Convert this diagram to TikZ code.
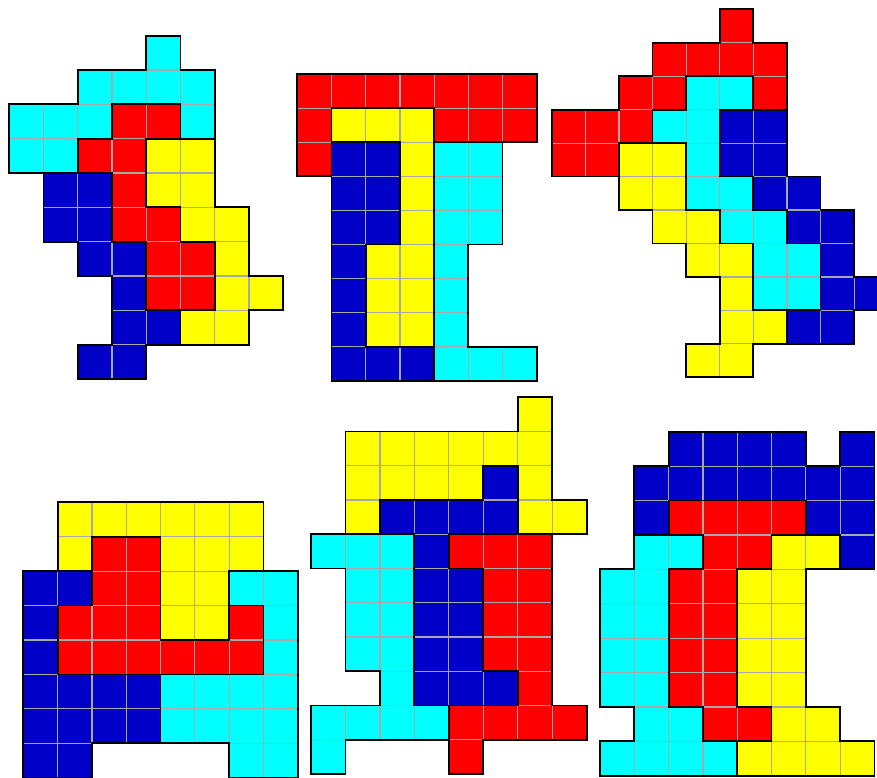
\documentclass[tikz,border=0pt]{standalone}
\usepackage{tikz}
\usetikzlibrary{calc}

\definecolor{piececyan}{HTML}{00FFFF}
\definecolor{piecered}{HTML}{FF0000}
\definecolor{pieceyellow}{HTML}{FFFF00}
\definecolor{pieceblue}{HTML}{0000C8}
\definecolor{gridgray}{HTML}{A8A8A8}

\tikzset{
    cellline/.style={draw=gridgray,line width=1.2bp},
    outline/.style={draw=black,line width=1.8bp,line join=miter}
}

% one piece = list of cells col/row, filled with one colour
\newcommand{\piece}[2]{%
    \foreach \cx/\cy in {#2} {\filldraw[fill=#1,cellline] (\cx,\cy) rectangle ++(1,1);}%
}

\begin{document}
\begin{tikzpicture}[x=1bp,y=-1bp]
    \useasboundingbox (0,0) rectangle (877,778);

    % top left
    \begin{scope}[shift={(9.3,35.7)},x=34.25bp,y=-34.33bp]
        \piece{piececyan}{4/0,2/1,3/1,4/1,5/1,0/2,1/2,2/2,5/2,0/3,1/3}
        \piece{piecered}{3/2,4/2,2/3,3/3,3/4,3/5,4/5,4/6,5/6,4/7,5/7}
        \piece{pieceyellow}{4/3,5/3,4/4,5/4,5/5,6/5,6/6,6/7,7/7,5/8,6/8}
        \piece{pieceblue}{1/4,2/4,1/5,2/5,2/6,3/6,3/7,3/8,4/8,2/9,3/9}
        \draw[outline] (4,0)--(5,0)--(5,1)--(6,1)--(6,3)--(5,3)--(5,2)--(3,2)--(3,3)--(2,3)--(2,4)--(0,4)--(0,2)--(2,2)--(2,1)--(4,1)--cycle;
        \draw[outline] (3,2)--(5,2)--(5,3)--(4,3)--(4,5)--(5,5)--(5,6)--(6,6)--(6,8)--(4,8)--(4,6)--(3,6)--(3,4)--(2,4)--(2,3)--(3,3)--cycle;
        \draw[outline] (4,3)--(6,3)--(6,5)--(7,5)--(7,7)--(8,7)--(8,8)--(7,8)--(7,9)--(5,9)--(5,8)--(6,8)--(6,6)--(5,6)--(5,5)--(4,5)--cycle;
        \draw[outline] (1,4)--(3,4)--(3,6)--(4,6)--(4,8)--(5,8)--(5,9)--(4,9)--(4,10)--(2,10)--(2,9)--(3,9)--(3,7)--(2,7)--(2,6)--(1,6)--cycle;
    \end{scope}

    % top middle
    \begin{scope}[shift={(297.3,74)},x=34.2bp,y=-34.1bp]
        \piece{piecered}{0/0,1/0,2/0,3/0,4/0,5/0,6/0,0/1,4/1,5/1,6/1,0/2}
        \piece{pieceyellow}{1/1,2/1,3/1,3/2,3/3,3/4,2/5,3/5,2/6,3/6,2/7,3/7}
        \piece{pieceblue}{1/2,2/2,1/3,2/3,1/4,2/4,1/5,1/6,1/7,1/8,2/8,3/8}
        \piece{piececyan}{4/2,5/2,4/3,5/3,4/4,5/4,4/5,4/6,4/7,4/8,5/8,6/8}
        \draw[outline] (0,0)--(7,0)--(7,2)--(4,2)--(4,1)--(1,1)--(1,3)--(0,3)--cycle;
        \draw[outline] (1,1)--(4,1)--(4,8)--(2,8)--(2,5)--(3,5)--(3,2)--(1,2)--cycle;
        \draw[outline] (1,2)--(3,2)--(3,5)--(2,5)--(2,8)--(4,8)--(4,9)--(1,9)--cycle;
        \draw[outline] (4,2)--(6,2)--(6,5)--(5,5)--(5,8)--(7,8)--(7,9)--(4,9)--cycle;
    \end{scope}

    % top right
    \begin{scope}[shift={(551.7,9.3)},x=33.6bp,y=-33.45bp]
        \piece{piecered}{5/0,3/1,4/1,5/1,6/1,2/2,3/2,6/2,0/3,1/3,2/3,0/4,1/4}
        \piece{piececyan}{4/2,5/2,3/3,4/3,4/4,4/5,5/5,5/6,6/6,6/7,7/7,6/8,7/8}
        \piece{pieceblue}{5/3,6/3,5/4,6/4,6/5,7/5,7/6,8/6,8/7,8/8,9/8,7/9,8/9}
        \piece{pieceyellow}{2/4,3/4,2/5,3/5,3/6,4/6,4/7,5/7,5/8,5/9,6/9,4/10,5/10}
        \draw[outline] (5,0)--(6,0)--(6,1)--(7,1)--(7,3)--(6,3)--(6,2)--(4,2)--(4,3)--(3,3)--(3,4)--(2,4)--(2,5)--(0,5)--(0,3)--(2,3)--(2,2)--(3,2)--(3,1)--(5,1)--cycle;
        \draw[outline] (4,2)--(6,2)--(6,3)--(5,3)--(5,5)--(6,5)--(6,6)--(7,6)--(7,7)--(8,7)--(8,9)--(6,9)--(6,7)--(5,7)--(5,6)--(4,6)--(4,4)--(3,4)--(3,3)--(4,3)--cycle;
        \draw[outline] (5,3)--(7,3)--(7,5)--(8,5)--(8,6)--(9,6)--(9,8)--(10,8)--(10,9)--(9,9)--(9,10)--(7,10)--(7,9)--(8,9)--(8,7)--(7,7)--(7,6)--(6,6)--(6,5)--(5,5)--cycle;
        \draw[outline] (2,4)--(4,4)--(4,6)--(5,6)--(5,7)--(6,7)--(6,9)--(7,9)--(7,10)--(6,10)--(6,11)--(4,11)--(4,10)--(5,10)--(5,8)--(4,8)--(4,7)--(3,7)--(3,6)--(2,6)--cycle;
    \end{scope}

    % bottom left
    \begin{scope}[shift={(23.3,502.3)},x=34.3bp,y=-34.43bp]
        \piece{pieceyellow}{1/0,2/0,3/0,4/0,5/0,6/0,1/1,4/1,5/1,6/1,4/2,5/2,4/3,5/3}
        \piece{piecered}{2/1,3/1,2/2,3/2,1/3,2/3,3/3,6/3,1/4,2/4,3/4,4/4,5/4,6/4}
        \piece{pieceblue}{0/2,1/2,0/3,0/4,0/5,1/5,2/5,3/5,0/6,1/6,2/6,3/6,0/7,1/7}
        \piece{piececyan}{6/2,7/2,7/3,7/4,4/5,5/5,6/5,7/5,4/6,5/6,6/6,7/6,6/7,7/7}
        \draw[outline] (1,0)--(7,0)--(7,2)--(6,2)--(6,4)--(4,4)--(4,1)--(2,1)--(2,2)--(1,2)--cycle;
        \draw[outline] (2,1)--(4,1)--(4,4)--(6,4)--(6,3)--(7,3)--(7,5)--(1,5)--(1,3)--(2,3)--cycle;
        \draw[outline] (0,2)--(2,2)--(2,3)--(1,3)--(1,5)--(4,5)--(4,7)--(2,7)--(2,8)--(0,8)--cycle;
        \draw[outline] (6,2)--(8,2)--(8,8)--(6,8)--(6,7)--(4,7)--(4,5)--(7,5)--(7,3)--(6,3)--cycle;
    \end{scope}

    % bottom middle
    \begin{scope}[shift={(311,397.3)},x=34.45bp,y=-34.24bp]
        \piece{pieceyellow}{6/0,1/1,2/1,3/1,4/1,5/1,6/1,1/2,2/2,3/2,4/2,6/2,1/3,6/3,7/3}
        \piece{pieceblue}{5/2,2/3,3/3,4/3,5/3,3/4,3/5,4/5,3/6,4/6,3/7,4/7,3/8,4/8,5/8}
        \piece{piececyan}{0/4,1/4,2/4,1/5,2/5,1/6,2/6,1/7,2/7,2/8,0/9,1/9,2/9,3/9,0/10}
        \piece{piecered}{4/4,5/4,6/4,5/5,6/5,5/6,6/6,5/7,6/7,6/8,4/9,5/9,6/9,7/9,4/10}
        \draw[outline] (6,0)--(7,0)--(7,3)--(8,3)--(8,4)--(6,4)--(6,2)--(5,2)--(5,3)--(2,3)--(2,4)--(1,4)--(1,1)--(6,1)--cycle;
        \draw[outline] (5,2)--(6,2)--(6,4)--(4,4)--(4,5)--(5,5)--(5,8)--(6,8)--(6,9)--(3,9)--(3,4)--(2,4)--(2,3)--(5,3)--cycle;
        \draw[outline] (0,4)--(3,4)--(3,9)--(4,9)--(4,10)--(1,10)--(1,11)--(0,11)--(0,9)--(2,9)--(2,8)--(1,8)--(1,5)--(0,5)--cycle;
        \draw[outline] (4,4)--(7,4)--(7,9)--(8,9)--(8,10)--(5,10)--(5,11)--(4,11)--(4,9)--(6,9)--(6,8)--(5,8)--(5,5)--(4,5)--cycle;
    \end{scope}

    % bottom right
    \begin{scope}[shift={(600,431.7)},x=34.3bp,y=-34.4bp]
        \piece{pieceblue}{2/0,3/0,4/0,5/0,7/0,1/1,2/1,3/1,4/1,5/1,6/1,7/1,1/2,6/2,7/2,7/3}
        \piece{piecered}{2/2,3/2,4/2,5/2,3/3,4/3,2/4,3/4,2/5,3/5,2/6,3/6,2/7,3/7,3/8,4/8}
        \piece{piececyan}{1/3,2/3,0/4,1/4,0/5,1/5,0/6,1/6,0/7,1/7,1/8,2/8,0/9,1/9,2/9,3/9}
        \piece{pieceyellow}{5/3,6/3,4/4,5/4,4/5,5/5,4/6,5/6,4/7,5/7,5/8,6/8,4/9,5/9,6/9,7/9}
        \draw[outline] (2,0)--(6,0)--(6,1)--(7,1)--(7,0)--(8,0)--(8,4)--(7,4)--(7,3)--(6,3)--(6,2)--(2,2)--(2,3)--(1,3)--(1,1)--(2,1)--cycle;
        \draw[outline] (2,2)--(6,2)--(6,3)--(5,3)--(5,4)--(4,4)--(4,8)--(5,8)--(5,9)--(3,9)--(3,8)--(2,8)--(2,4)--(3,4)--(3,3)--(2,3)--cycle;
        \draw[outline] (1,3)--(3,3)--(3,4)--(2,4)--(2,8)--(3,8)--(3,9)--(4,9)--(4,10)--(0,10)--(0,9)--(1,9)--(1,8)--(0,8)--(0,4)--(1,4)--cycle;
        \draw[outline] (5,3)--(7,3)--(7,4)--(6,4)--(6,8)--(7,8)--(7,9)--(8,9)--(8,10)--(4,10)--(4,9)--(5,9)--(5,8)--(4,8)--(4,4)--(5,4)--cycle;
    \end{scope}
\end{tikzpicture}
\end{document}
